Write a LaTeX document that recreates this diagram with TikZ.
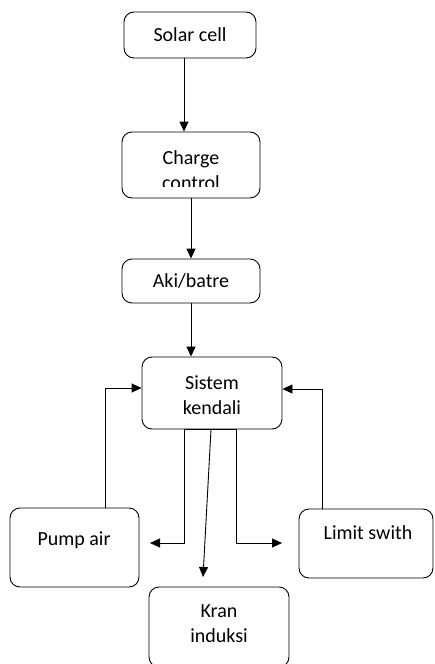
\documentclass[tikz,border=0pt]{standalone}
\usepackage{fontspec}
\setmainfont{Carlito}
\usetikzlibrary{arrows.meta}
\tikzset{
  blk/.style={draw=black, line width=0.9pt, rounded corners=10pt, inner sep=0pt},
  lbl/.style={align=center, inner sep=0pt, font=\fontsize{20}{25}\selectfont, text=black},
  conn/.style={draw=black, line width=0.9pt, -{Triangle[length=10pt,width=9pt]}},
  plain/.style={draw=black, line width=0.9pt}
}
\begin{document}
\begin{tikzpicture}[x=1pt,y=-1pt]
\clip (0,0) rectangle (434,664);
\fill[white] (0,0) rectangle (434,664);
% boxes
\node[blk, minimum width=132pt, minimum height=46pt] (solar) at (190,35) {};
\node[lbl] (solart) at (190,35) {Solar cell};
\node[blk, minimum width=138pt, minimum height=66pt] (charge) at (191,165) {};
\begin{scope}
\clip (124,134) rectangle (258,186);
\node[lbl] (charget) at (191,170) {Charge\\control};
\end{scope}
\node[blk, minimum width=138pt, minimum height=44pt] (aki) at (191,281) {};
\node[lbl] (akit) at (191,281) {Aki/batre};
\node[blk, minimum width=140pt, minimum height=72pt] (sistem) at (212,393) {};
\node[lbl] (sistemt) at (212,395) {Sistem\\kendali};
\node[blk, minimum width=129pt, minimum height=79pt] (pump) at (74.5,547.5) {};
\node[lbl] (pumpt) at (74,540) {Pump air};
\node[blk, minimum width=134pt, minimum height=69pt] (limit) at (366,543.5) {};
\node[lbl] (limitt) at (368,533) {Limit swith};
\node[blk, minimum width=140pt, minimum height=80pt] (kran) at (219,627) {};
\node[lbl] (krant) at (219,624) {Kran\\induksi};
% free ends
\coordinate (pl) at (150,543);
\coordinate (pr) at (282,543);
\coordinate (ke) at (203,577);
% connectors
\draw[conn] ([xshift=-6pt]solar.south) -- ([xshift=-6pt]solar.south |- charge.north);
\draw[conn] (charge.south) -- (charge.south |- aki.north);
\draw[conn] (aki.south) -- (aki.south |- sistem.north);
\draw[conn] ([xshift=30.5pt]pump.north) |- ([yshift=5pt]sistem.west);
\draw[conn] ([xshift=-44pt]limit.north) |- ([yshift=4pt]sistem.east);
\draw[plain, line width=1.6pt] ([xshift=-28pt]sistem.south) -- ([xshift=24pt]sistem.south);
\draw[conn] ([xshift=-28pt]sistem.south) |- (pl);
\draw[conn] ([xshift=24pt]sistem.south) |- (pr);
\draw[conn] ([xshift=-1pt]sistem.south) -- (ke);
\end{tikzpicture}
\end{document}
